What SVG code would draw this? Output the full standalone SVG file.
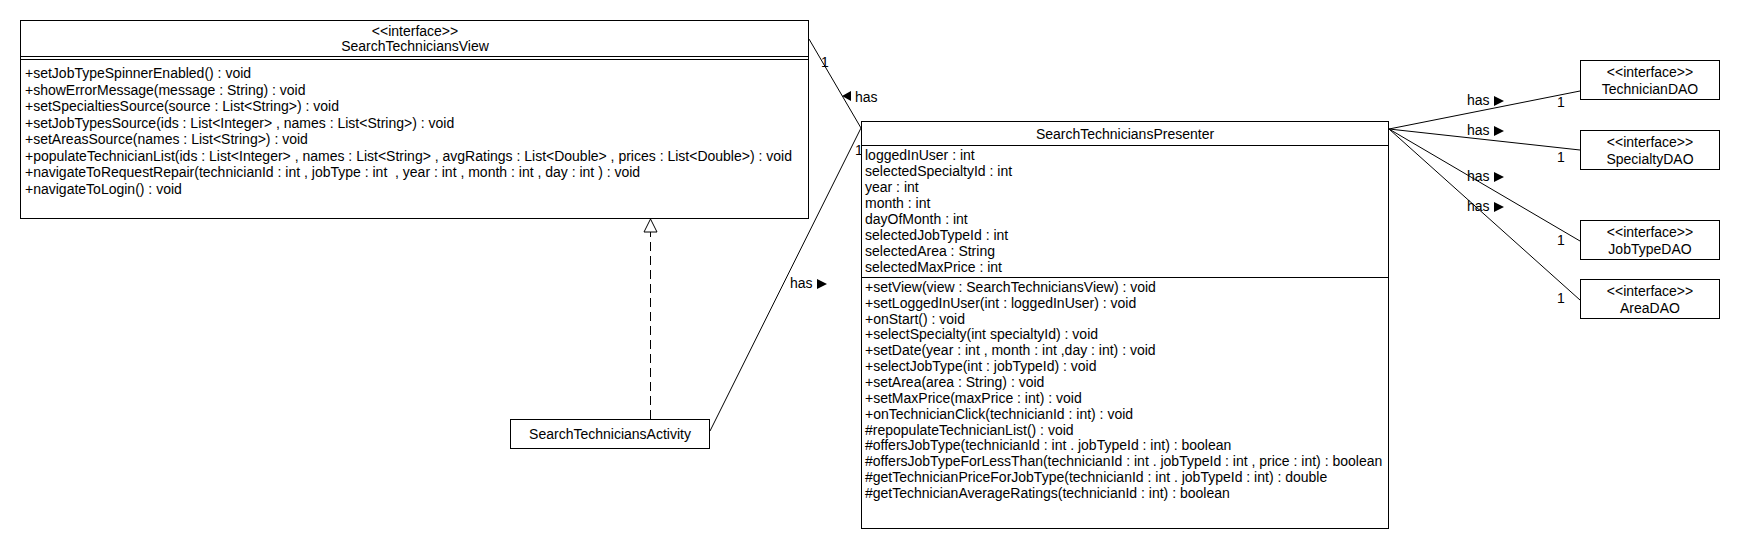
<svg xmlns="http://www.w3.org/2000/svg" width="1740" height="550" viewBox="0 0 1740 550">
<style>
.box{fill:#fff;stroke:#000;stroke-width:1}
.ln{fill:none;stroke:#000;stroke-width:1}
.dash{fill:none;stroke:#000;stroke-width:1;stroke-dasharray:9,5}
.t{font-family:"Liberation Sans",Arial,Helvetica,sans-serif;font-size:14px;fill:#000}
.c{text-anchor:middle}
.tri{fill:#000;stroke:none}
</style>
<rect width="1740" height="550" fill="#fff"/>
<g id="connectors">
  <line class="ln" x1="809" y1="39" x2="861" y2="128"/>
  <line class="ln" x1="710" y1="431" x2="861" y2="128"/>
  <line class="dash" x1="650.5" y1="419" x2="650.5" y2="232"/>
  <polygon points="650.5,219 644,232 657,232" fill="#fff" stroke="#000" stroke-width="1"/>
  <line class="ln" x1="1389" y1="129" x2="1580" y2="91"/>
  <line class="ln" x1="1389" y1="129" x2="1580" y2="150"/>
  <line class="ln" x1="1389" y1="129" x2="1580" y2="241"/>
  <line class="ln" x1="1389" y1="129" x2="1580" y2="300"/>
  <text class="t" x="821" y="67">1</text>
  <polygon class="tri" points="842,96 851,91 851,101"/>
  <text class="t" x="855" y="102">has</text>
  <text class="t" x="855" y="155">1</text>
  <text class="t" x="790" y="288">has</text>
  <polygon class="tri" points="817,279 827,284 817,289"/>
  <text class="t" x="1467" y="105">has</text>
  <polygon class="tri" points="1494,96 1504,101 1494,106"/>
  <text class="t" x="1557" y="107">1</text>
  <text class="t" x="1467" y="135">has</text>
  <polygon class="tri" points="1494,126 1504,131 1494,136"/>
  <text class="t" x="1557" y="162">1</text>
  <text class="t" x="1467" y="181">has</text>
  <polygon class="tri" points="1494,172 1504,177 1494,182"/>
  <text class="t" x="1557" y="245">1</text>
  <text class="t" x="1467" y="211">has</text>
  <polygon class="tri" points="1494,202 1504,207 1494,212"/>
  <text class="t" x="1557" y="303">1</text>
</g>
<g id="SearchTechniciansView">
  <rect class="box" x="20.5" y="20.5" width="788" height="198"/>
  <text class="t c" x="415" y="36">&lt;&lt;interface&gt;&gt;</text>
  <text class="t c" x="415" y="51">SearchTechniciansView</text>
  <line class="ln" x1="20.5" y1="56.5" x2="808.5" y2="56.5"/>
  <line class="ln" x1="20.5" y1="59.5" x2="808.5" y2="59.5"/>
  <text class="t" x="25" y="78">+setJobTypeSpinnerEnabled() : void</text>
  <text class="t" x="25" y="94.5">+showErrorMessage(message : String) : void</text>
  <text class="t" x="25" y="111">+setSpecialtiesSource(source : List&lt;String&gt;) : void</text>
  <text class="t" x="25" y="127.5">+setJobTypesSource(ids : List&lt;Integer&gt; , names : List&lt;String&gt;) : void</text>
  <text class="t" x="25" y="144">+setAreasSource(names : List&lt;String&gt;) : void</text>
  <text class="t" x="25" y="160.5">+populateTechnicianList(ids : List&lt;Integer&gt; , names : List&lt;String&gt; , avgRatings : List&lt;Double&gt; , prices : List&lt;Double&gt;) : void</text>
  <text class="t" x="25" y="177" xml:space="preserve">+navigateToRequestRepair(technicianId : int , jobType : int  , year : int , month : int , day : int ) : void</text>
  <text class="t" x="25" y="193.5">+navigateToLogin() : void</text>
</g>
<g id="SearchTechniciansActivity">
  <rect class="box" x="510.5" y="419.5" width="199" height="29"/>
  <text class="t c" x="610" y="439">SearchTechniciansActivity</text>
</g>
<g id="SearchTechniciansPresenter">
  <rect class="box" x="861.5" y="121.5" width="527" height="407"/>
  <text class="t c" x="1125" y="139">SearchTechniciansPresenter</text>
  <line class="ln" x1="861.5" y1="145.5" x2="1388.5" y2="145.5"/>
  <text class="t" x="865" y="160">loggedInUser : int</text>
  <text class="t" x="865" y="176">selectedSpecialtyId : int</text>
  <text class="t" x="865" y="192">year : int</text>
  <text class="t" x="865" y="208">month : int</text>
  <text class="t" x="865" y="224">dayOfMonth : int</text>
  <text class="t" x="865" y="240">selectedJobTypeId : int</text>
  <text class="t" x="865" y="256">selectedArea : String</text>
  <text class="t" x="865" y="272">selectedMaxPrice : int</text>
  <line class="ln" x1="861.5" y1="277.5" x2="1388.5" y2="277.5"/>
  <text class="t" x="865" y="292">+setView(view : SearchTechniciansView) : void</text>
  <text class="t" x="865" y="308">+setLoggedInUser(int : loggedInUser) : void</text>
  <text class="t" x="865" y="324">+onStart() : void</text>
  <text class="t" x="865" y="339">+selectSpecialty(int specialtyId) : void</text>
  <text class="t" x="865" y="355">+setDate(year : int , month : int ,day : int) : void</text>
  <text class="t" x="865" y="371">+selectJobType(int : jobTypeId) : void</text>
  <text class="t" x="865" y="387">+setArea(area : String) : void</text>
  <text class="t" x="865" y="403">+setMaxPrice(maxPrice : int) : void</text>
  <text class="t" x="865" y="419">+onTechnicianClick(technicianId : int) : void</text>
  <text class="t" x="865" y="435">#repopulateTechnicianList() : void</text>
  <text class="t" x="865" y="450">#offersJobType(technicianId : int . jobTypeId : int) : boolean</text>
  <text class="t" x="865" y="466">#offersJobTypeForLessThan(technicianId : int . jobTypeId : int , price : int) : boolean</text>
  <text class="t" x="865" y="482">#getTechnicianPriceForJobType(technicianId : int . jobTypeId : int) : double</text>
  <text class="t" x="865" y="498">#getTechnicianAverageRatings(technicianId : int) : boolean</text>
</g>
<g id="TechnicianDAO">
  <rect class="box" x="1580.5" y="60.5" width="139" height="39"/>
  <text class="t c" x="1650" y="77">&lt;&lt;interface&gt;&gt;</text>
  <text class="t c" x="1650" y="94">TechnicianDAO</text>
</g>
<g id="SpecialtyDAO">
  <rect class="box" x="1580.5" y="130.5" width="139" height="39"/>
  <text class="t c" x="1650" y="147">&lt;&lt;interface&gt;&gt;</text>
  <text class="t c" x="1650" y="164">SpecialtyDAO</text>
</g>
<g id="JobTypeDAO">
  <rect class="box" x="1580.5" y="220.5" width="139" height="39"/>
  <text class="t c" x="1650" y="237">&lt;&lt;interface&gt;&gt;</text>
  <text class="t c" x="1650" y="254">JobTypeDAO</text>
</g>
<g id="AreaDAO">
  <rect class="box" x="1580.5" y="279.5" width="139" height="39"/>
  <text class="t c" x="1650" y="296">&lt;&lt;interface&gt;&gt;</text>
  <text class="t c" x="1650" y="313">AreaDAO</text>
</g>
</svg>
